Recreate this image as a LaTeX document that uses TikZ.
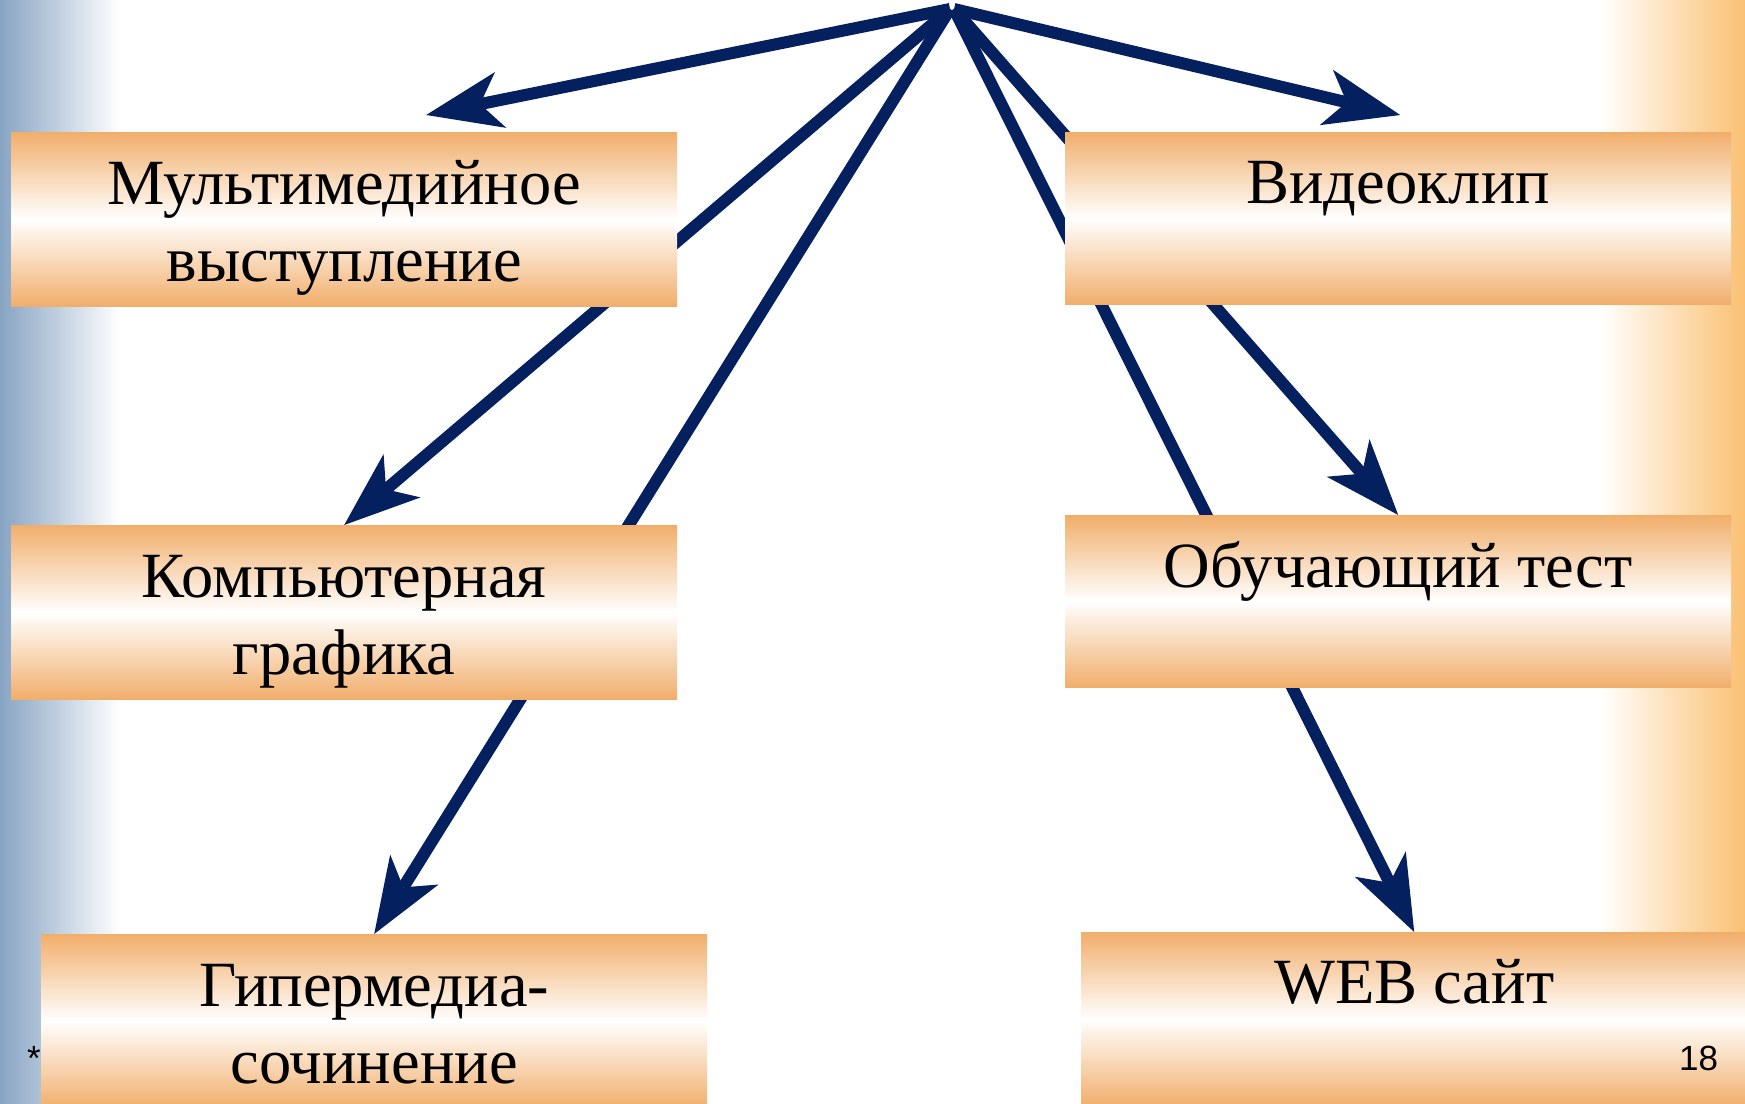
\documentclass[tikz,border=0pt]{standalone}
\usepackage{fontspec}
\setmainfont{Liberation Serif}
\newfontfamily\slidesans{Liberation Sans}
\usetikzlibrary{arrows.meta,calc}
\definecolor{navy}{HTML}{05205E}
\definecolor{boxorange}{HTML}{F1AE6B}
\definecolor{leftblue}{HTML}{87A4C3}
\definecolor{rightorange}{HTML}{FAC072}
\pgfdeclarelayer{bg}
\pgfsetlayers{bg,main}
\tikzset{
  box/.style={anchor=north west, inner sep=0pt, minimum width=666pt, minimum height=174pt,
    top color=boxorange, bottom color=boxorange, middle color=white, draw=none},
  txt/.style={anchor=base, inner sep=0pt, font=\fontsize{64.5}{77}\selectfont},
  arr/.style={draw=navy, line width=12pt,
    -{Stealth[length=76pt,width=57pt,inset=21pt,line width=0pt]}},
  pagetxt/.style={anchor=base west, inner sep=0pt, font=\slidesans\fontsize{35}{40}\selectfont}
}
\newcommand{\boxlines}[1]{\parbox[t]{640pt}{\centering #1}}
\begin{document}
\begin{tikzpicture}[x=1pt,y=-1pt]
\clip (0,0) rectangle (1745,1103);
% boxes
\node[box] (b1) at (11,132) {};
\node[box] (b2) at (11,525) {};
\node[box] (b3) at (41,934) {};
\node[box, minimum height=172pt] (b4) at (1065,132) {};
\node[box, minimum height=172pt] (b5) at (1065,515) {};
\node[box] (b6) at (1081,932) {};
% texts
\node[txt] (t1) at ($(b1.north)+(0,72)$) {\boxlines{Мультимедийное\\выступление}};
\node[txt] (t2) at ($(b2.north)+(0,72)$) {\boxlines{Компьютерная\\графика}};
\node[txt] (t3) at ($(b3.north)+(0,72)$) {\boxlines{Гипермедиа-\\сочинение}};
\node[txt] (t4) at ($(b4.north)+(0,71)$) {\boxlines{Видеоклип}};
\node[txt] (t5) at ($(b5.north)+(0,72)$) {\boxlines{Обучающий тест}};
\node[txt] (t6) at ($(b6.north)+(0,71)$) {\boxlines{WEB сайт}};
% footer
\node[pagetxt] (star) at (27,1070) {*};
\node[pagetxt] (pg) at (1679,1070) {18};
% background and connectors
\coordinate (apexL) at (950,9);
\coordinate (apexR) at (954,9);
\coordinate (tip1) at ($(b1.north)+(82,-17)$);
\coordinate (tip4) at ($(b4.north)+(2,-17)$);
\begin{pgfonlayer}{bg}
\shade[left color=leftblue, right color=white] (0,0) rectangle (120,1103);
\shade[left color=white, right color=rightorange] (1600,0) rectangle (1745,1103);
\draw[arr] (apexL) -- (tip1);
\draw[arr] (apexL) -- (b2.north);
\draw[arr] (apexL) -- (b3.north);
\draw[arr] (apexR) -- (tip4);
\draw[arr] (apexR) -- (b5.north);
\draw[arr] (apexR) -- (b6.north);
\end{pgfonlayer}
\end{tikzpicture}
\end{document}
